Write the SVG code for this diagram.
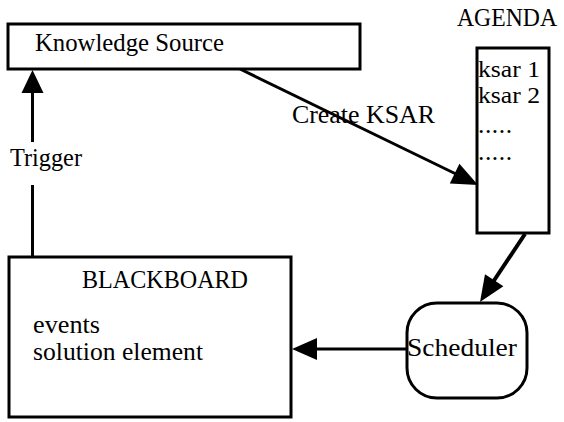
<svg xmlns="http://www.w3.org/2000/svg" width="564" height="422" viewBox="0 0 564 422">
<style>
.box{fill:#fff;stroke:#000;stroke-width:3}
.ln{stroke:#000;stroke-width:3;fill:none}
.hd{fill:#000;stroke:none}
text{font-family:"Liberation Serif","Times New Roman",serif;font-size:25.5px;fill:#000}
.sm{font-size:23px}
</style>
<rect width="564" height="422" fill="#fff"/>
<g id="connectors">
<line class="ln" x1="32.5" y1="92" x2="32.5" y2="142"/>
<line class="ln" x1="32.5" y1="185" x2="32.5" y2="257"/>
<polygon class="hd" points="32.5,70 21.5,93 43.5,93"/>
<line class="ln" x1="240" y1="69" x2="456" y2="174"/>
<polygon class="hd" points="478,185 449.8,183.5 459.4,163.7"/>
<line class="ln" x1="525" y1="234" x2="493" y2="282" style="stroke-width:4"/>
<polygon class="hd" points="480,302 485,274.2 503.4,286.2"/>
<line class="ln" x1="407" y1="349" x2="315" y2="349"/>
<polygon class="hd" points="292,349 317,338 317,360"/>
<text x="10" y="166" textLength="72" lengthAdjust="spacingAndGlyphs">Trigger</text>
<text x="292" y="123" textLength="143" lengthAdjust="spacingAndGlyphs">Create KSAR</text>
</g>
<g id="knowledge-source">
<rect class="box" x="8" y="24" width="352" height="45"/>
<text x="35" y="51" textLength="189" lengthAdjust="spacingAndGlyphs">Knowledge Source</text>
</g>
<g id="agenda">
<text x="457" y="26" textLength="100" lengthAdjust="spacingAndGlyphs">AGENDA</text>
<rect class="box" x="477" y="48" width="72" height="185"/>
<text class="sm" x="478" y="77" textLength="62" lengthAdjust="spacingAndGlyphs">ksar 1</text>
<text class="sm" x="478" y="103" textLength="62" lengthAdjust="spacingAndGlyphs">ksar 2</text>
<text x="478" y="133" textLength="34" lengthAdjust="spacing">.....</text>
<text x="478" y="160" textLength="34" lengthAdjust="spacing">.....</text>
</g>
<g id="blackboard">
<rect class="box" x="9" y="257" width="282" height="160"/>
<text x="82" y="288" textLength="166" lengthAdjust="spacingAndGlyphs">BLACKBOARD</text>
<text x="33" y="333" textLength="67" lengthAdjust="spacingAndGlyphs">events</text>
<text x="33" y="360" textLength="170" lengthAdjust="spacingAndGlyphs">solution element</text>
</g>
<g id="scheduler">
<rect class="box" x="407" y="303" width="120" height="95" rx="30" ry="30"/>
<text x="407" y="356" textLength="110" lengthAdjust="spacingAndGlyphs">Scheduler</text>
</g>
</svg>
